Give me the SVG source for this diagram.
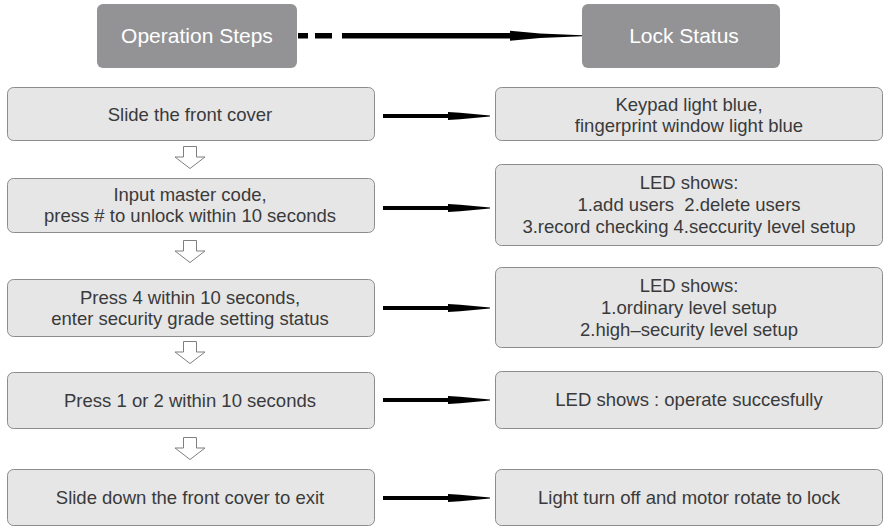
<svg xmlns="http://www.w3.org/2000/svg" width="886" height="526" viewBox="0 0 886 526">
<style>
  .hdr { fill: #939396; }
  .hdrtxt { font-family: "Liberation Sans", Arial, sans-serif; font-size: 21px; fill: #ffffff; text-anchor: middle; }
  .box { fill: #e6e6e7; stroke: #8c8c8e; stroke-width: 1; }
  .txt { font-family: "Liberation Sans", Arial, sans-serif; font-size: 18.5px; fill: #3a3a3a; text-anchor: middle; }
  .harrow { fill: #000000; }
  .darrow { fill: #ffffff; stroke: #7f7f81; stroke-width: 1; stroke-linejoin: miter; }
</style>
<defs>
  <path id="ra" class="harrow" d="M383,-2 L448,-2 L448,-4 L460,-3.2 L490,-0.4 L490,0.4 L460,3.2 L448,4 L448,2 L383,2 Z"/>
  <path id="da" class="darrow" d="M183.5,0 L196.5,0 L196.5,10.5 L205,10.5 L190,22 L175,10.5 L183.5,10.5 Z"/>
</defs>
<rect width="886" height="526" fill="#ffffff"/>

<g id="header-operation">
  <rect class="hdr" x="97" y="4" width="200" height="64" rx="6"/>
  <text class="hdrtxt" x="197" y="43">Operation Steps</text>
</g>
<g id="header-lock">
  <rect class="hdr" x="582" y="4" width="198" height="64" rx="6"/>
  <text class="hdrtxt" x="684" y="43">Lock Status</text>
</g>

<g id="step1">
  <rect class="box" x="7.5" y="87.5" width="367" height="53" rx="6"/>
  <text class="txt" x="190" y="121">Slide the front cover</text>
</g>
<g id="step2">
  <rect class="box" x="7.5" y="178.5" width="367" height="54" rx="6"/>
  <text class="txt" x="190" y="201">Input master code,</text>
  <text class="txt" x="190" y="222">press # to unlock within 10 seconds</text>
</g>
<g id="step3">
  <rect class="box" x="7.5" y="279.5" width="367" height="57" rx="6"/>
  <text class="txt" x="190" y="304">Press 4 within 10 seconds,</text>
  <text class="txt" x="190" y="325">enter security grade setting status</text>
</g>
<g id="step4">
  <rect class="box" x="7.5" y="372.5" width="367" height="56" rx="6"/>
  <text class="txt" x="190" y="407">Press 1 or 2 within 10 seconds</text>
</g>
<g id="step5">
  <rect class="box" x="7.5" y="469.5" width="367" height="56" rx="6"/>
  <text class="txt" x="190" y="504">Slide down the front cover to exit</text>
</g>

<g id="status1">
  <rect class="box" x="495.5" y="87.5" width="387" height="53" rx="6"/>
  <text class="txt" x="689" y="111">Keypad light blue,</text>
  <text class="txt" x="689" y="132">fingerprint window light blue</text>
</g>
<g id="status2">
  <rect class="box" x="495.5" y="164.5" width="387" height="81" rx="6"/>
  <text class="txt" x="689" y="189">LED shows:</text>
  <text class="txt" x="689" y="211" xml:space="preserve">1.add users  2.delete users</text>
  <text class="txt" x="689" y="233">3.record checking 4.seccurity level setup</text>
</g>
<g id="status3">
  <rect class="box" x="495.5" y="267.5" width="387" height="80" rx="6"/>
  <text class="txt" x="689" y="292">LED shows:</text>
  <text class="txt" x="689" y="314">1.ordinary level setup</text>
  <text class="txt" x="689" y="336">2.high–security level setup</text>
</g>
<g id="status4">
  <rect class="box" x="495.5" y="371.5" width="387" height="57" rx="6"/>
  <text class="txt" x="689" y="406">LED shows : operate succesfully</text>
</g>
<g id="status5">
  <rect class="box" x="495.5" y="469.5" width="387" height="56" rx="6"/>
  <text class="txt" x="689" y="504">Light turn off and motor rotate to lock</text>
</g>

<g id="connectors">
  <rect class="harrow" x="298" y="33" width="10" height="5.5"/>
  <rect class="harrow" x="315" y="33" width="17" height="5.5"/>
  <path class="harrow" d="M342,33 L510,33 L510,30.8 L540,33.5 L582,35.3 L582,36.2 L540,38 L510,40.7 L510,38.5 L342,38.5 Z"/>
  <use href="#ra" y="116"/>
  <use href="#ra" y="208"/>
  <use href="#ra" y="308"/>
  <use href="#ra" y="400"/>
  <use href="#ra" y="498"/>
  <use href="#da" y="146.5"/>
  <use href="#da" y="240.5"/>
  <use href="#da" y="341.5"/>
  <use href="#da" y="437.5"/>
</g>
</svg>
